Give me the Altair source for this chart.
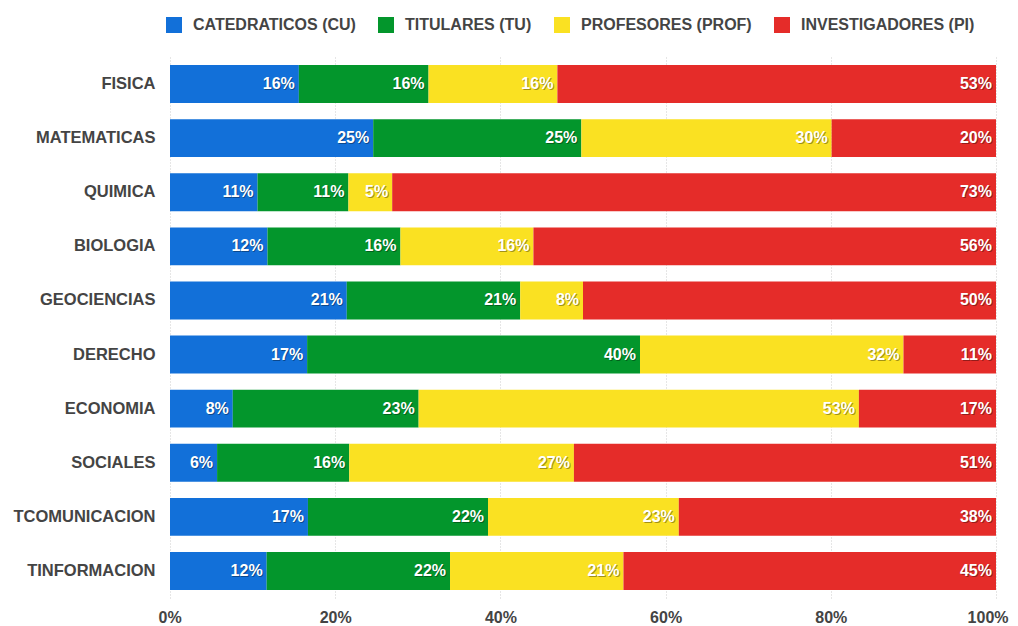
import altair as alt
import pandas as pd

departments = ["FISICA", "MATEMATICAS", "QUIMICA", "BIOLOGIA", "GEOCIENCIAS",
               "DERECHO", "ECONOMIA", "SOCIALES", "TCOMUNICACION", "TINFORMACION"]
categories = ["CATEDRATICOS (CU)", "TITULARES (TU)", "PROFESORES (PROF)", "INVESTIGADORES (PI)"]
colors = ["#1270d9", "#03962c", "#fae122", "#e52c29"]

cu = [15.6, 24.6, 10.6, 11.8, 21.4, 16.6, 7.6, 5.7, 16.7, 11.7]
tu = [15.7, 25.2, 11.0, 16.1, 21.0, 40.3, 22.5, 16.0, 21.8, 22.2]
prof = [15.6, 30.3, 5.3, 16.1, 7.6, 31.9, 53.3, 27.2, 23.1, 21.0]
pi = [53.1, 19.9, 73.1, 56.0, 50.0, 11.2, 16.6, 51.1, 38.4, 45.1]

rows = []
for series_idx, vals in enumerate([cu, tu, prof, pi]):
    for d, v in zip(departments, vals):
        rows.append({"dept": d, "cat": categories[series_idx], "order": series_idx, "value": v})
df = pd.DataFrame(rows)

FONT = "Liberation Sans"

base = alt.Chart(df).transform_stack(
    stack="value", groupby=["dept"], as_=["x0", "x1"], offset="normalize",
    sort=[alt.SortField("order", order="ascending")]
).transform_calculate(
    label="format(datum.x1 - datum.x0, '.0%')"
)

yenc = alt.Y("dept:N", sort=departments, title=None,
             scale=alt.Scale(paddingInner=0.3, paddingOuter=0.15),
             axis=alt.Axis(labelFont=FONT, labelFontSize=16.5, labelFontWeight="bold",
                           labelColor="#444444", ticks=False, domain=False,
                           labelPadding=15, labelLimit=300))

bars = base.mark_bar().encode(
    x=alt.X("x0:Q", title=None, scale=alt.Scale(domain=[0, 1], nice=False),
            axis=alt.Axis(format="%", values=[0, 0.2, 0.4, 0.6, 0.8, 1.0],
                          labelFont=FONT, labelFontSize=16, labelFontWeight="bold",
                          labelColor="#444444", ticks=False, domain=False,
                          labelFlush=True, labelFlushOffset=12,
                          labelPadding=11, grid=True, gridColor="#cccccc",
                          gridDash=[1, 2], gridWidth=1)),
    x2="x1:Q",
    y=yenc,
    color=alt.Color("cat:N", sort=categories,
                    scale=alt.Scale(domain=categories, range=colors),
                    legend=alt.Legend(title=None, orient="none", direction="horizontal",
                                      legendX=-4, legendY=-40,
                                      symbolType="square", symbolSize=256,
                                      symbolStrokeWidth=0, symbolOpacity=1,
                                      labelFont=FONT, labelFontSize=16,
                                      labelFontWeight="bold", labelColor="#444444",
                                      labelOffset=11, columnPadding=22,
                                      labelLimit=400)),
    order=alt.Order("order:Q")
)

shadow = base.mark_text(align="right", baseline="middle", dx=-3, dy=1,
                        font=FONT, fontSize=16, fontWeight="bold",
                        color="#000000", opacity=0.35).encode(
    x="x1:Q", y=alt.Y("dept:N", sort=departments), text="label:N"
)

labels = base.mark_text(align="right", baseline="middle", dx=-4, dy=0,
                        font=FONT, fontSize=16, fontWeight="bold",
                        color="#ffffff").encode(
    x="x1:Q", y=alt.Y("dept:N", sort=departments), text="label:N"
)

chart = alt.layer(bars, shadow, labels).properties(
    width=826, height=541,
    autosize=alt.AutoSizeParams(type="none"),
    padding={"left": 162, "top": 49, "right": 14, "bottom": 27},
).configure_view(stroke=None)

chart.save("out.html", embed_options={"renderer": "svg", "actions": False})
